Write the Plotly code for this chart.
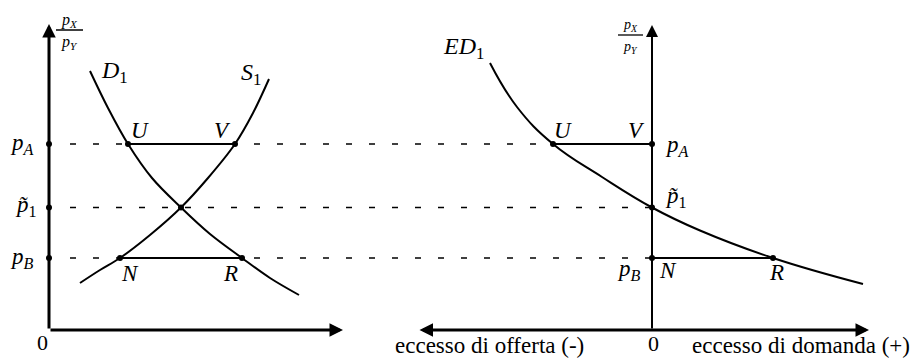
import plotly.graph_objects as go

W, H = 921, 358

# ---------------- data ----------------
level_names = ["pA", "p1", "pB"]
level_values = [3.72, 2.45, 1.44]

d1_q = [0.82, 1.18, 1.58, 2.06, 2.64, 3.22, 3.86, 4.42, 5.00]
d1_p = [5.18, 4.44, 3.72, 3.04, 2.45, 1.92, 1.44, 1.04, 0.70]

s1_q = [0.62, 1.02, 1.42, 2.02, 2.64, 3.18, 3.72, 4.08, 4.40]
s1_p = [0.94, 1.20, 1.44, 1.90, 2.45, 3.04, 3.72, 4.34, 5.02]

ed1_x = [-3.24, -2.70, -1.98, -1.00, 0.0, 0.96, 2.42, 4.22]
ed1_p = [5.34, 4.46, 3.72, 3.06, 2.45, 1.99, 1.44, 0.92]

# points on the left diagram (quantity)
q_U, q_V, q_E, q_N, q_R = 1.58, 3.72, 2.64, 1.42, 3.86
# points on the right diagram (excess demand)
ed_U, ed_V, ed_N, ed_R = -1.98, 0.0, 0.0, 2.42

pA, p1, pB = level_values

FONT = "Liberation Serif"
BLACK = "#000000"

fig = go.Figure()

def line(x, y, axis="x", width=2, dash=None, shape="linear", smoothing=1.0):
    fig.add_trace(go.Scatter(
        x=x, y=y, mode="lines", xaxis=axis, yaxis="y",
        line=dict(color=BLACK, width=width, dash=dash, shape=shape, smoothing=smoothing),
        hoverinfo="skip", showlegend=False))

def dots(x, y, axis="x", size=6):
    fig.add_trace(go.Scatter(
        x=x, y=y, mode="markers", xaxis=axis, yaxis="y",
        marker=dict(color=BLACK, size=size), hoverinfo="skip", showlegend=False))

# dashed guides (drawn on the excess-demand axis, start near the left axis)
dash_start = -11.64
line([dash_start, ed_U], [pA, pA], axis="x2", width=1.6, dash="6px,17px")
line([dash_start, 0.0], [p1, p1], axis="x2", width=1.6, dash="6px,17px")
line([dash_start, ed_R], [pB, pB], axis="x2", width=1.6, dash="6px,17px")

# left curves
line(d1_q, d1_p, width=2, shape="spline")
line(s1_q, s1_p, width=2, shape="spline")
line([q_U, q_V], [pA, pA], width=2)
line([q_N, q_R], [pB, pB], width=2)

# right curve
line(ed1_x, ed1_p, axis="x2", width=2, shape="spline", smoothing=1.2)
line([ed_U, ed_V], [pA, pA], axis="x2", width=2)
line([ed_N, ed_R], [pB, pB], axis="x2", width=2)

# dots
dots([0, 0, 0], level_values)
dots([q_U, q_V, q_E, q_N, q_R], [pA, pA, p1, pB, pB])
dots([ed_U, ed_V, 0.0, ed_N, ed_R], [pA, pA, p1, pB, pB], axis="x2")

annotations = []

def arrow(x, y, ax, ay, xref="x", width=3, side="end", size=0.9):
    annotations.append(dict(
        x=x, y=y, ax=ax, ay=ay, xref=xref, yref="y", axref=xref, ayref="y",
        showarrow=True, arrowhead=2, arrowsize=size, arrowwidth=width,
        arrowcolor=BLACK, standoff=0, startstandoff=0, arrowside=side, text=""))

# axes
arrow(0, 6.12, 0, 0, width=3)
arrow(5.88, 0, 0, 0, width=3)
arrow(0, 6.10, 0, 0, xref="x2", width=2, size=1.2)
arrow(4.34, 0, -4.68, 0, xref="x2", width=3, side="end+start")

def label(px, py, text, size=23):
    annotations.append(dict(
        x=px / W, y=1 - py / H, xref="paper", yref="paper", showarrow=False,
        text=text, font=dict(family=FONT, size=size, color=BLACK),
        xanchor="center", yanchor="middle"))

PT = "<i>p\u0303</i><sub>1</sub>"
# left labels
label(22, 144, "<i>p<sub>A</sub></i>")
label(26, 206, PT)
label(22, 258, "<i>p<sub>B</sub></i>")
label(42, 342, "0", 22)
label(114, 72, "<i>D</i><sub>1</sub>", 24)
label(251, 74, "<i>S</i><sub>1</sub>", 24)
label(140, 130, "<i>U</i>")
label(222, 130, "<i>V</i>")
label(130, 273, "<i>N</i>")
label(230, 273, "<i>R</i>")
label(69, 21, "<i>p<sub>X</sub></i>", 16)
label(69, 43, "<i>p<sub>Y</sub></i>", 16)

# right labels
label(463, 48, "<i>ED</i><sub>1</sub>", 24)
label(563, 130, "<i>U</i>")
label(636, 130, "<i>V</i>")
label(677, 146, "<i>p<sub>A</sub></i>")
label(676, 197, PT)
label(629, 270, "<i>p<sub>B</sub></i>")
label(668, 270, "<i>N</i>")
label(776, 272, "<i>R</i>")
label(630, 26, "<i>p<sub>X</sub></i>", 14)
label(630, 47, "<i>p<sub>Y</sub></i>", 14)
label(653, 343, "0", 22)
label(489, 345, "eccesso di offerta (-)", 23)
label(801, 345, "eccesso di domanda (+)", 23)

shapes = [
    dict(type="line", xref="paper", yref="paper", x0=56 / W, x1=83 / W,
         y0=1 - 30 / H, y1=1 - 30 / H, line=dict(color=BLACK, width=1.5)),
    dict(type="line", xref="paper", yref="paper", x0=618 / W, x1=643 / W,
         y0=1 - 35 / H, y1=1 - 35 / H, line=dict(color=BLACK, width=1.3)),
]

fig.update_layout(
    width=W, height=H, autosize=False,
    margin=dict(l=0, r=0, t=0, b=0),
    paper_bgcolor="white", plot_bgcolor="white",
    xaxis=dict(range=[-0.98, 17.44], visible=False, fixedrange=True),
    xaxis2=dict(range=[-13.04, 5.38], visible=False, overlaying="x", fixedrange=True),
    yaxis=dict(range=[-0.56, 6.6], visible=False, fixedrange=True),
    annotations=annotations, shapes=shapes,
    showlegend=False,
)

fig.write_html("out.html", config={"displayModeBar": False},
               post_script="document.body.style.margin='0';document.body.style.overflow='hidden';")
